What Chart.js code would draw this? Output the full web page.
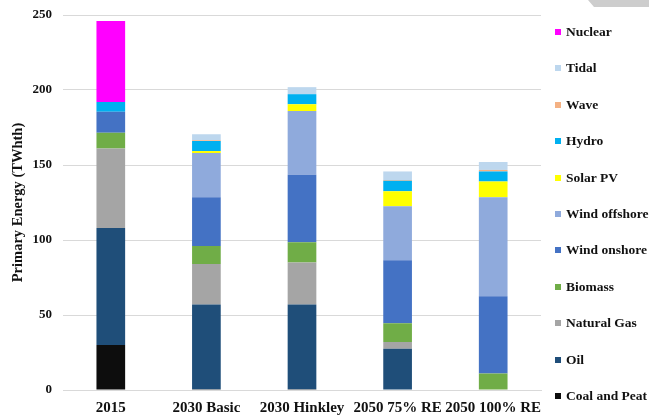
<!DOCTYPE html>
<html>
<head>
<meta charset="utf-8">
<script src="https://cdn.jsdelivr.net/npm/chart.js@4"></script>
<style>
  html, body { margin: 0; padding: 0; background: #ffffff; }
  #wrap { position: relative; width: 649px; height: 418px; overflow: hidden; }
  #chart { position: absolute; left: 0; top: 0; }
  #legend {
    position: absolute; left: 555px; top: 13.8px;
    font-family: "Liberation Serif", "Times New Roman", serif;
    font-weight: bold; font-size: 13.5px; color: #111;
  }
  #legend .item { height: 36.4px; display: flex; align-items: center; white-space: nowrap; }
  #legend .box { width: 6px; height: 6px; margin-right: 5px; flex: none; }
  #tab {
    position: absolute; left: 588px; top: 0; width: 61px; height: 7px;
    background: #cdcdcd; clip-path: polygon(0 0, 100% 0, 100% 100%, 6px 100%);
  }
</style>
</head>
<body>
<div id="wrap">
  <canvas id="chart" width="649" height="418"></canvas>
  <div id="legend"></div>
  <div id="tab"></div>
</div>
<script>
// Primary energy by source for each scenario (TWhth)
const categories = ['2015', '2030 Basic', '2030 Hinkley', '2050 75% RE', '2050 100% RE'];

const coalAndPeat  = [30,   0.5,  0.5,  0,    0];
const oil          = [78,   56.5, 56.5, 27.5, 0];
const naturalGas   = [53,   27,   28,   4.5,  0];
const biomass      = [10.5, 12,   13.5, 12.5, 11];
const windOnshore  = [14,   32.5, 45,   42,   51.5];
const windOffshore = [0,    29.5, 42.5, 36,   66];
const solarPV      = [0,    1.3,  4.5,  10,   10.5];
const hydro        = [6.5,  6.7,  6.7,  7,    6.7];
const wave         = [0,    0.5,  0,    0.5,  1];
const tidal        = [0,    4,    4.7,  5.7,  5.3];
const nuclear      = [54,   0,    0,    0,    0];

const yTicks = [0, 50, 100, 150, 200, 250];

const series = [
  { label: 'Coal and Peat', data: coalAndPeat,  color: '#0d0d0d' },
  { label: 'Oil',           data: oil,          color: '#1f4e79' },
  { label: 'Natural Gas',   data: naturalGas,   color: '#a5a5a5' },
  { label: 'Biomass',       data: biomass,      color: '#70ad47' },
  { label: 'Wind onshore',  data: windOnshore,  color: '#4472c4' },
  { label: 'Wind offshore', data: windOffshore, color: '#8faadc' },
  { label: 'Solar PV',      data: solarPV,      color: '#ffff00' },
  { label: 'Hydro',         data: hydro,        color: '#00b0f0' },
  { label: 'Wave',          data: wave,         color: '#f4b183' },
  { label: 'Tidal',         data: tidal,        color: '#bdd7ee' },
  { label: 'Nuclear',       data: nuclear,      color: '#ff00ff' }
];

const serif = '"Liberation Serif", "Times New Roman", serif';

const chart = new Chart(document.getElementById('chart'), {
  type: 'bar',
  data: {
    labels: categories,
    datasets: series.map(s => ({
      label: s.label,
      data: s.data,
      backgroundColor: s.color,
      borderWidth: 0,
      barPercentage: 0.6,
      categoryPercentage: 0.5
    }))
  },
  options: {
    responsive: false,
    animation: false,
    layout: { padding: { top: 15, right: 108, bottom: 0, left: 0 } },
    plugins: {
      legend: { display: false },
      tooltip: { enabled: false }
    },
    scales: {
      x: {
        stacked: true,
        grid: { display: false, drawTicks: false },
        border: { display: true, color: '#d9d9d9', width: 1 },
        ticks: {
          padding: 9,
          maxRotation: 0,
          minRotation: 0,
          autoSkip: false,
          color: '#111',
          font: { family: serif, size: 15, weight: 'bold' }
        },
        afterFit: s => { s.height = 28; }
      },
      y: {
        stacked: true,
        min: 0,
        max: 250,
        afterBuildTicks: s => { s.ticks = yTicks.map(v => ({ value: v })); },
        grid: { color: '#d9d9d9', lineWidth: 1, drawTicks: false },
        border: { display: false },
        ticks: {
          padding: 11,
          color: '#111',
          font: { family: serif, size: 13, weight: 'bold' }
        },
        title: {
          display: true,
          text: 'Primary Energy (TWhth)',
          color: '#111',
          padding: { top: 10, bottom: 0 },
          font: { family: serif, size: 14.5, weight: 'bold' }
        },
        afterFit: s => { s.width = 63; s.paddingTop = 0; s.paddingBottom = 0; }
      }
    }
  }
});

// Legend listed top-down in stacking order (Nuclear first)
const legendEl = document.getElementById('legend');
chart.data.datasets.slice().reverse().forEach(ds => {
  const item = document.createElement('div');
  item.className = 'item';
  const box = document.createElement('span');
  box.className = 'box';
  box.style.background = ds.backgroundColor;
  const txt = document.createElement('span');
  txt.textContent = ds.label;
  item.appendChild(box);
  item.appendChild(txt);
  legendEl.appendChild(item);
});
</script>
</body>
</html>
